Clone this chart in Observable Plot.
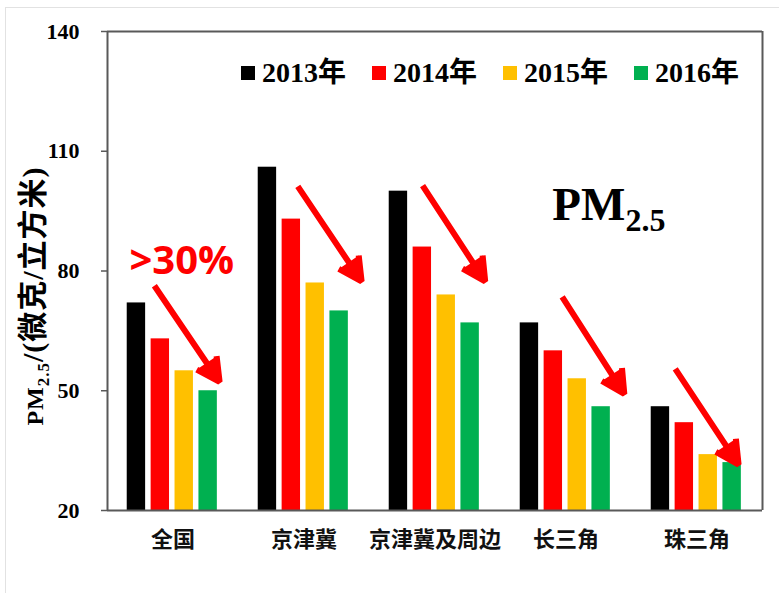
<!DOCTYPE html>
<html>
<head>
<meta charset="utf-8">
<script src="https://cdn.jsdelivr.net/npm/d3@7"></script>
<script src="https://cdn.jsdelivr.net/npm/@observablehq/plot@0.6"></script>
<style>
  html, body { margin: 0; padding: 0; background: #fff; }
  #wrap { position: relative; width: 779px; height: 593px; overflow: hidden; background: #fff; }
  #edge { position: absolute; left: 5px; top: 7px; width: 900px; height: 700px;
          border-left: 1px solid #e2e2e2; border-top: 1px solid #e2e2e2; }
  #chart { position: absolute; left: 0; top: 0; }
  #legend { position: absolute; left: 241px; top: 57px; }
  #legend .lg-swatches { font: bold 28px "Liberation Serif", "Noto Sans CJK SC", serif; color: #000;
                         margin: 0 !important; min-height: 0 !important; line-height: 32px; flex-wrap: nowrap !important; }
  #legend .lg-swatch { width: 131px; margin-right: 0 !important; }
  #legend .lg-swatch > svg { margin-right: 7px !important; }
  #chart [aria-label^="y-axis"] text { font: bold 22px "Liberation Serif", serif; fill: #000; }
  #chart [aria-label^="y-axis"] line, #chart [aria-label^="y-axis"] path { stroke: #595959; stroke-width: 1.5px; }
  #chart [aria-label^="fx-axis"] text { font: bold 22px "Noto Sans CJK SC", sans-serif; fill: #111; }
</style>
</head>
<body>
<div id="wrap">
  <div id="edge"></div>
  <div id="chart"></div>
  <div id="legend"></div>
</div>
<script>
// ---- data ----
const regions = ["全国", "京津冀", "京津冀及周边", "长三角", "珠三角"];
const years = ["2013年", "2014年", "2015年", "2016年"];
const yearNums = [2013, 2014, 2015, 2016];
const v2013 = [72, 106, 100, 67, 46];
const v2014 = [63, 93, 86, 60, 42];
const v2015 = [55, 77, 74, 53, 34];
const v2016 = [50, 70, 67, 46, 32];
const yTicks = [20, 50, 80, 110, 140];
const colors = ["#000000", "#ff0000", "#ffc000", "#00b050"];
const yLabel = "PM2.5/(微克/立方米)";
const bigLabel = "PM2.5";
const pctLabel = ">30%";

// arrows: region, start (year position, value), end (year position, value)
const arrowRegion = ["全国", "京津冀", "京津冀及周边", "长三角", "珠三角"];
const arrowX1 = [2013.75, 2014.27, 2014.01, 2014.37, 2013.62];
const arrowY1 = [76.3, 101.2, 101.4, 73.5, 55.5];
const arrowX2 = [2016.48, 2016.94, 2016.63, 2016.97, 2016.27];
const arrowY2 = [52.2, 77.4, 77.4, 49.2, 31.5];

// ---- tables built from the arrays ----
const series = [v2013, v2014, v2015, v2016];
const rows = regions.flatMap((region, i) =>
  years.map((label, j) => ({region, label, year: yearNums[j], value: series[j][i]})));
const arrows = arrowRegion.map((region, i) =>
  ({region, x1: arrowX1[i], y1: arrowY1[i], x2: arrowX2[i], y2: arrowY2[i]}));

const xDomain = [2011.79, 2017.27];
const barHalf = 0.385;
const frameColor = "#595959";
const yMin = yTicks[0], yMax = yTicks[yTicks.length - 1];

const plot = Plot.plot({
  width: 779,
  height: 593,
  marginLeft: 106,
  marginRight: 16,
  marginTop: 31,
  marginBottom: 83,
  style: {background: "transparent", color: "#000", overflow: "visible"},
  fx: {domain: regions, padding: 0, label: null, axis: "bottom", tickSize: 0, tickPadding: 21},
  x: {domain: xDomain, axis: null},
  y: {domain: [yMin, yMax], ticks: yTicks, tickSize: 6, tickPadding: 22, label: null},
  color: {domain: years, range: colors},
  marks: [
    Plot.rectY(rows, {fx: "region", x1: d => d.year - barHalf, x2: d => d.year + barHalf,
                      y1: yMin, y2: "value", fill: "label"}),
    Plot.ruleY([yMin, yMax], {stroke: frameColor, strokeWidth: 2}),
    Plot.ruleX([regions[0]], {fx: d => d, x: xDomain[0], y1: yMin, y2: yMax, stroke: frameColor, strokeWidth: 2}),
    Plot.ruleX([regions[regions.length - 1]], {fx: d => d, x: xDomain[1], y1: yMin, y2: yMax, stroke: frameColor, strokeWidth: 2}),
    Plot.arrow(arrows, {fx: "region", x1: "x1", y1: "y1", x2: "x2", y2: "y2",
                        stroke: "#ff0000", fill: "#ff0000", strokeWidth: 6,
                        headLength: 6.5, headAngle: 55, strokeLinecap: "butt"}),
    Plot.text([pctLabel], {fx: () => regions[0], x: 2012.71, y: 79.3, text: d => d,
                           textAnchor: "start", lineAnchor: "bottom", fill: "#ff0000",
                           fontSize: 40, fontWeight: "bold", fontFamily: "'Open Sans', 'Liberation Sans', sans-serif"}),
    Plot.text([bigLabel], {fx: () => regions[3], x: 2013.96, y: 92.75, text: d => d,
                           textAnchor: "start", lineAnchor: "bottom", fill: "#000",
                           fontSize: 47, fontWeight: "bold", fontFamily: "'Liberation Serif', serif"}),
    Plot.text([yLabel], {fx: () => regions[0], frameAnchor: "left", dx: -74, dy: 25, rotate: -90,
                         text: d => d, textAnchor: "middle", lineAnchor: "middle", fill: "#000",
                         fontSize: 30, fontWeight: "bold", fontFamily: "'Liberation Serif', 'Noto Sans CJK SC', serif"})
  ]
});

// subscript the "2.5" in PM2.5 labels
function subscript(el, mainSize, subSize, shift, restSize) {
  const full = el.textContent;
  const rest = full.slice(5);
  el.textContent = "";
  const ns = "http://www.w3.org/2000/svg";
  const a = document.createElementNS(ns, "tspan");
  a.setAttribute("font-size", mainSize); a.textContent = full.slice(0, 2); el.appendChild(a);
  const b = document.createElementNS(ns, "tspan");
  b.setAttribute("font-size", subSize); b.setAttribute("dy", shift); b.textContent = full.slice(2, 5); el.appendChild(b);
  if (rest) {
    const c = document.createElementNS(ns, "tspan");
    c.setAttribute("font-size", restSize); c.setAttribute("dy", -shift); c.textContent = rest; el.appendChild(c);
  }
}
d3.select(plot).selectAll("text").each(function() {
  const t = this.textContent;
  if (t === bigLabel) subscript(this, 47, 32, 11, 47);
  else if (t === yLabel) { subscript(this, 24, 17, 6, 30); this.setAttribute("letter-spacing", "1px"); }
});

document.getElementById("chart").appendChild(plot);
const legend = plot.legend("color", {className: "lg", swatchSize: 14});
document.getElementById("legend").appendChild(legend);
</script>
</body>
</html>
